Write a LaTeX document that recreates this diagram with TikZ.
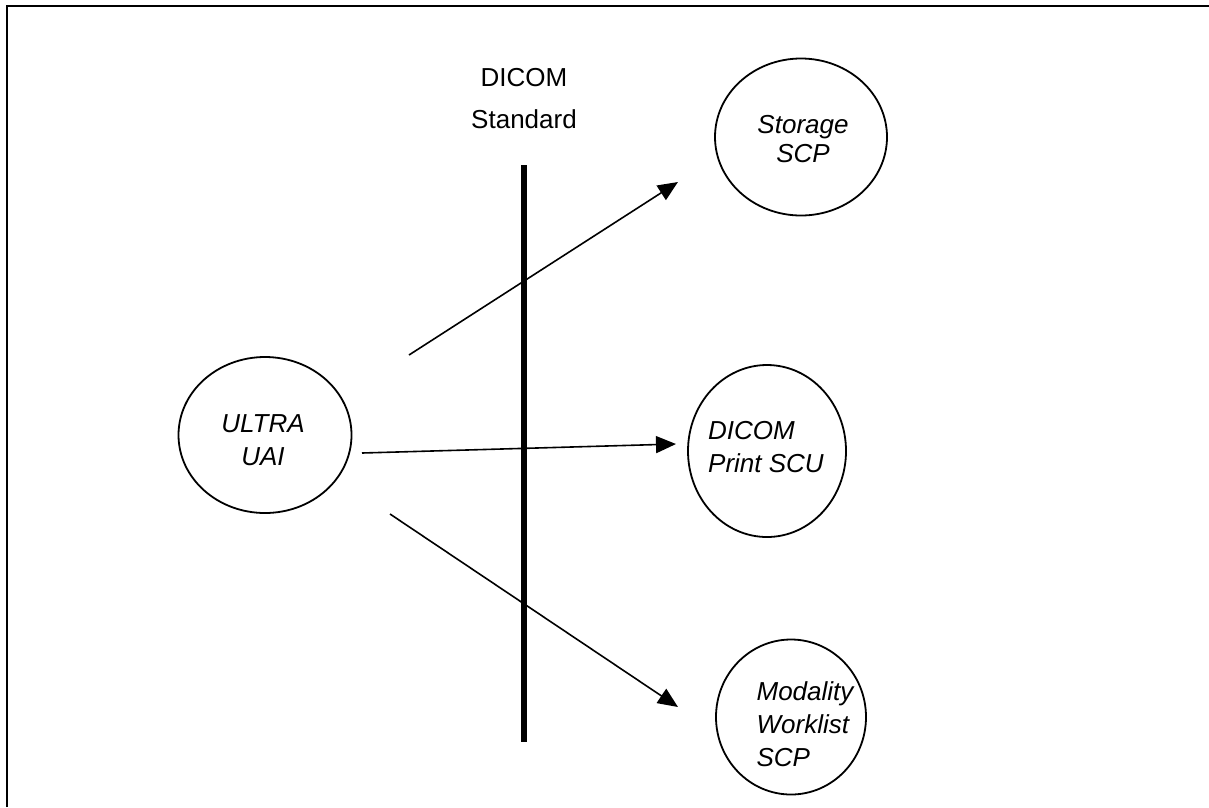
\documentclass[tikz,border=0pt]{standalone}
\usepackage{fontspec}
\setmainfont{Liberation Sans}
\usetikzlibrary{arrows.meta,shapes.geometric}
\begin{document}
\begin{tikzpicture}[x=1pt,y=-1pt,
  bubble/.style={draw,ellipse,line width=1.8pt,inner sep=0pt},
  btext/.style={inner sep=0pt,font=\fontsize{26}{33}\selectfont\itshape},
  flow/.style={line width=1.6pt,-{Triangle[length=20pt,width=17pt]}}]

\useasboundingbox (0,0) rectangle (1209,807);
\draw[line width=2.6pt] (7,807) -- (7,6) -- (1209,6);

\node[inner sep=0pt,align=center,font=\fontsize{26}{42}\selectfont] (std) at (524,99) {DICOM\\Standard};
\draw[line width=6pt] (524,165) coordinate (bartop) -- (524,742) coordinate (barbot);

\node[bubble,minimum width=173pt,minimum height=156pt] (uai) at (265,435) {};
\node[btext,align=center] (uaitxt) at (263,440) {ULTRA\\UAI};

\node[bubble,minimum width=172pt,minimum height=157pt] (stor) at (801,137) {};
\node[btext,align=center,font=\fontsize{26}{29}\selectfont\itshape] (stortxt) at (803,139) {Storage\\SCP};

\node[bubble,minimum width=158pt,minimum height=172pt] (print) at (767,451) {};
\node[btext,align=left] (printtxt) at (766,447) {DICOM\\Print SCU};

\node[bubble,minimum width=150pt,minimum height=155pt] (mwl) at (791,717) {};
\node[btext,align=left] (mwltxt) at (805,724) {Modality\\Worklist\\SCP};

\coordinate (a1) at (409,355);
\coordinate (b1) at (678,182);
\coordinate (a2) at (362,453);
\coordinate (b2) at (676,444);
\coordinate (a3) at (390,514);
\coordinate (b3) at (678,707);

\draw[flow] (a1) -- (b1);
\draw[flow] (a2) -- (b2);
\draw[flow] (a3) -- (b3);
\end{tikzpicture}
\end{document}
